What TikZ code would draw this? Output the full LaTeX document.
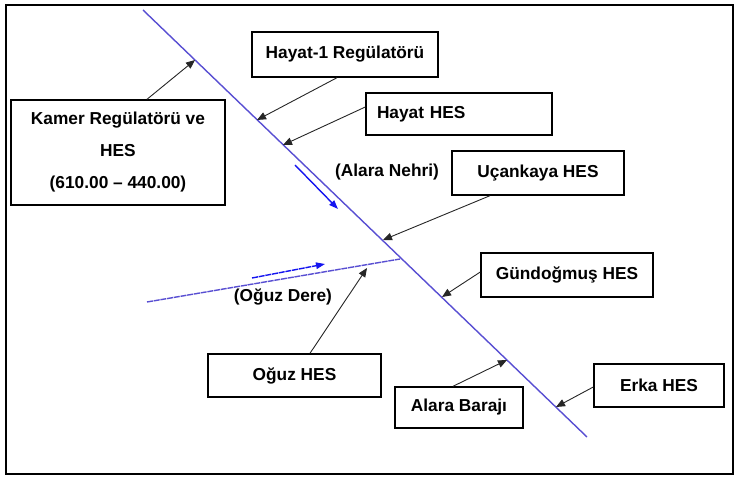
\documentclass[tikz,border=0pt]{standalone}
\usepackage{fontspec}
\setmainfont{Liberation Sans}
\usetikzlibrary{arrows.meta}
\definecolor{river}{RGB}{88,78,210}
\definecolor{flow}{RGB}{20,20,240}
\begin{document}
\begin{tikzpicture}[x=1pt,y=-1pt,
  box/.style={draw=black,line width=1.4pt,inner sep=0pt,font=\fontsize{17.3}{32}\bfseries\selectfont,align=center},
  conn/.style={draw=black!85,line width=0.9pt,-{Triangle[length=9pt,width=7.5pt]}},
  riv/.style={draw=river,line width=1.4pt},
  flowarr/.style={draw=flow,line width=1.4pt,-{Triangle[length=9pt,width=6.5pt]}},
  lbl/.style={font=\fontsize{17.3}{20}\bfseries\selectfont,inner sep=0pt}]
\useasboundingbox (0,0) rectangle (740,481);
\draw[line width=1.6pt] (6,5) rectangle (733,474);
% rivers
\coordinate (rs) at (143,10);
\coordinate (re) at (587,437);
\coordinate (ts) at (147,302);
\coordinate (te) at (400,259);
\draw[riv] (rs) -- (re);
\draw[riv,dash pattern=on 6pt off 0.8pt] (ts) -- (te);
\coordinate (f1s) at (295,165); \coordinate (f1e) at (338,209);
\draw[flowarr] (f1s) -- (f1e);
\coordinate (f2s) at (252,278); \coordinate (f2e) at (325,264);
\draw[flowarr,dash pattern=on 6pt off 0.8pt] (f2s) -- (f2e);
% boxes
\node[box,minimum width=214pt,minimum height=105pt] (kamer) at (118,152.5) {Kamer Regülatörü ve\\HES\\(610.00 -- 440.00)};
\node[box,minimum width=186pt,minimum height=45pt] (hay1) at (345,54.5) {Hayat-1 Regülatörü};
\node[box,minimum width=186pt,minimum height=42pt,text width=164pt,align=left,inner xsep=11pt] (hayat) at (459,114) {Hayat HES};
\node[box,minimum width=172pt,minimum height=44pt] (ucan) at (538,173) {Uçankaya HES};
\node[box,minimum width=172pt,minimum height=44pt] (gun) at (567,275) {Gündoğmuş HES};
\node[box,minimum width=173pt,minimum height=43pt] (oguz) at (294.5,375.5) {Oğuz HES};
\node[box,minimum width=128pt,minimum height=41pt] (alara) at (459,407.5) {Alara Barajı};
\node[box,minimum width=130pt,minimum height=43pt] (erka) at (659,385.5) {Erka HES};
% labels
\node[lbl] (alaranehri) at (387,172) {(Alara Nehri)};
\node[lbl] (oguzdere) at (283,297) {(Oğuz Dere)};
% points on rivers
\coordinate (p1) at (195,60);
\coordinate (p2) at (257,120);
\coordinate (p3) at (283,145);
\coordinate (p4) at (383,240);
\coordinate (p5) at (442,297);
\coordinate (p6) at (507,360);
\coordinate (p7) at (556,407);
\coordinate (p8) at (367,268);
% connectors
\draw[conn] ([xshift=29pt]kamer.north) -- (p1);
\draw[conn] ([xshift=-8pt]hay1.south) -- (p2);
\draw[conn] ([yshift=7pt]hayat.west) -- (p3);
\draw[conn] ([xshift=-48pt]ucan.south) -- (p4);
\draw[conn] ([yshift=3pt]gun.west) -- (p5);
\draw[conn] ([xshift=-6pt]alara.north) -- (p6);
\draw[conn] ([yshift=-1.5pt]erka.west) -- (p7);
\draw[conn] ([xshift=15.5pt]oguz.north) -- (p8);
\end{tikzpicture}
\end{document}
